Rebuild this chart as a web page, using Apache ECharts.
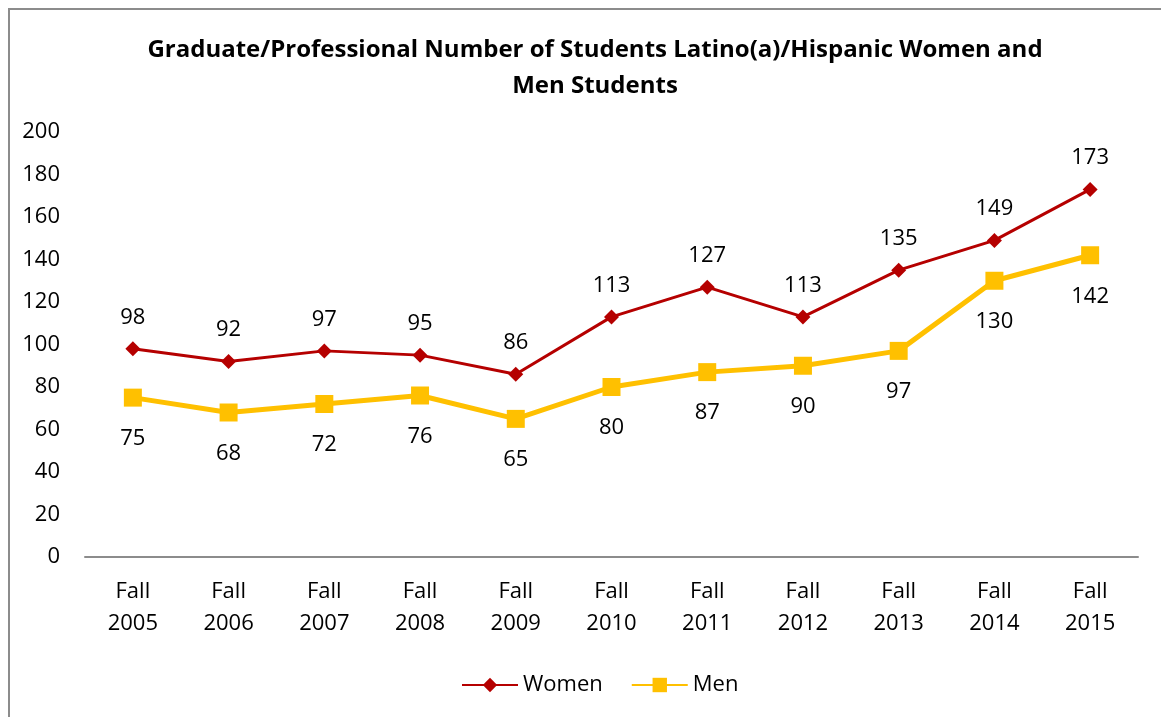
<!DOCTYPE html>
<html>
<head>
<meta charset="utf-8">
<script src="https://cdn.jsdelivr.net/npm/echarts@6/dist/echarts.min.js"></script>
<style>
  html, body { margin: 0; padding: 0; background: #fff; }
  #chart { position: absolute; left: 0; top: 0; width: 1161px; height: 717px; }
  .frame { position: absolute; left: 8px; top: 8px; width: 1200px; height: 800px;
           border-left: 2px solid #8c8c8c; border-top: 2px solid #8c8c8c; pointer-events: none; }
</style>
</head>
<body>
<div id="chart"></div>
<div class="frame"></div>
<script>
const categories = ['Fall\n2005', 'Fall\n2006', 'Fall\n2007', 'Fall\n2008', 'Fall\n2009', 'Fall\n2010',
                    'Fall\n2011', 'Fall\n2012', 'Fall\n2013', 'Fall\n2014', 'Fall\n2015']
const women = [98, 92, 97, 95, 86, 113, 127, 113, 135, 149, 173]
const men   = [75, 68, 72, 76, 65, 80, 87, 90, 97, 130, 142]

const FONT = 'Open Sans'
const LABEL = { color: '#000', fontSize: 22, fontFamily: FONT }

const chart = echarts.init(document.getElementById('chart'))
chart.setOption({
  animation: false,
  title: {
    text: 'Graduate/Professional Number of Students Latino(a)/Hispanic Women and\nMen Students',
    left: 590, top: 27, textAlign: 'center',
    textStyle: { fontFamily: FONT, fontWeight: 'bold', fontSize: 24, lineHeight: 36, color: '#000' }
  },
  legend: {
    bottom: 16, left: 456,
    itemWidth: 56, itemHeight: 18, itemGap: 28,
    textStyle: LABEL,
    data: ['Women', 'Men']
  },
  grid: { left: 85, right: 23, top: 132, bottom: 160 },
  xAxis: {
    type: 'category',
    data: categories,
    axisLine: { lineStyle: { color: '#8c8c8c', width: 2 } },
    axisTick: { show: false },
    axisLabel: { ...LABEL, lineHeight: 32, margin: 19 }
  },
  yAxis: {
    type: 'value', min: 0, max: 200, interval: 20,
    axisLine: { show: false }, axisTick: { show: false },
    splitLine: { show: false },
    axisLabel: { ...LABEL, margin: 25 }
  },
  series: [
    {
      name: 'Women', type: 'line', data: women,
      symbol: 'diamond', symbolSize: 15,
      itemStyle: { color: '#B50000' },
      lineStyle: { color: '#B50000', width: 3 },
      label: { show: true, position: 'top', distance: 13, ...LABEL }
    },
    {
      name: 'Men', type: 'line', data: men,
      symbol: 'rect', symbolSize: 18,
      itemStyle: { color: '#FFC000' },
      lineStyle: { color: '#FFC000', width: 5 },
      label: { show: true, position: 'bottom', distance: 21, ...LABEL }
    }
  ]
})
</script>
</body>
</html>
